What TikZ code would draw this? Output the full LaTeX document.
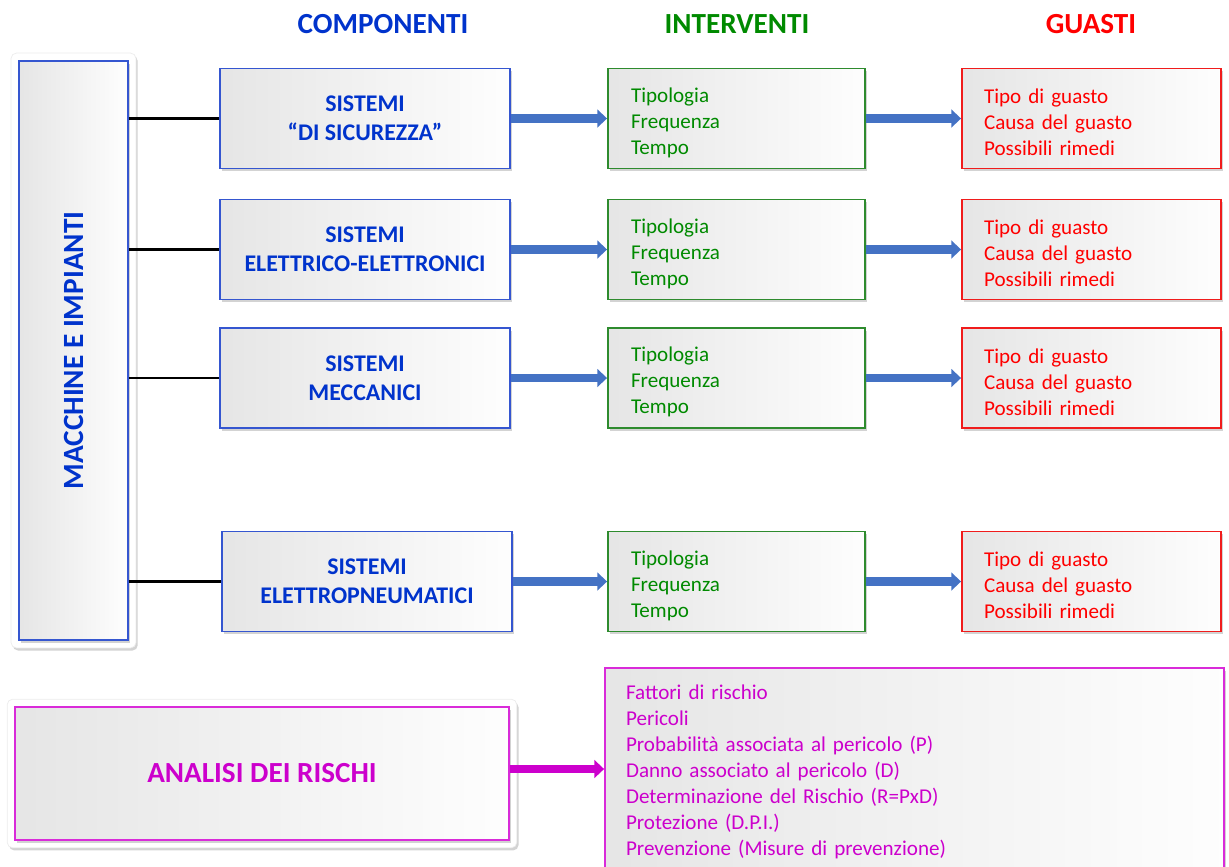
\documentclass[tikz,border=0pt]{standalone}
\usepackage{fontspec}
\setmainfont{Carlito}
\usepackage{tikz}
\usetikzlibrary{arrows.meta, shadows, fit, backgrounds}
\definecolor{cblue}{HTML}{0033CC}
\definecolor{bblue}{HTML}{3556D0}
\definecolor{cgreen}{HTML}{008A00}
\definecolor{bgreen}{HTML}{2E8B2E}
\definecolor{cred}{HTML}{FF0000}
\definecolor{bred}{HTML}{F01C1C}
\definecolor{cmag}{HTML}{CC00CC}
\definecolor{bmag}{HTML}{D92BD9}
\definecolor{arrblue}{HTML}{4472C4}
\tikzstyle{bevel} = [rectangle, line width=1.1pt, left color=gray!20, right color=gray!1, drop shadow={opacity=0.35, shadow xshift=1pt, shadow yshift=-1.5pt}]
\tikzstyle{frame} = [rectangle, rounded corners=3pt, fill=white, draw=gray!15, drop shadow={opacity=0.35, shadow xshift=1pt, shadow yshift=-1.5pt}]
\tikzstyle{title} = [font=\fontsize{16.6}{20}\selectfont\bfseries]
\tikzstyle{comp} = [bevel, draw=bblue, text=cblue, align=center, minimum width=5.8cm, minimum height=2cm, font=\fontsize{13.6}{16.4}\selectfont\bfseries]
\tikzstyle{interv} = [bevel, draw=bgreen, text=cgreen, align=left, inner xsep=0.46cm, text width=4.22cm, minimum height=2cm, font=\fontsize{12}{14.8}\selectfont]
\tikzstyle{guasto} = [bevel, draw=bred, text=cred, align=left, inner xsep=0.44cm, text width=4.3cm, minimum height=2cm, font=\fontsize{12}{14.8}\selectfont]
\tikzstyle{link} = [draw, black, line width=1.4pt]
\tikzstyle{bigarrow} = [draw, arrblue, line width=5pt, -{Triangle[length=5.5pt, width=10pt]}]
\tikzstyle{magarrow} = [draw, cmag, line width=5pt, -{Triangle[length=5.5pt, width=10pt]}]
\newcommand{\lowfirst}{\rule{0pt}{13pt}}

\begin{document}
\begin{tikzpicture}[x=0.02cm, y=-0.02cm]
\useasboundingbox (0, 0) rectangle (1229, 866);

%% headings
\node[title, text=cblue] at (383, 24) (hcomp) {COMPONENTI};
\node[title, text=cgreen] at (737, 24) (hint) {INTERVENTI};
\node[title, text=cred] at (1091, 24) (hgua) {GUASTI};

%% machines
\node[bevel, draw=bblue, text=cblue, minimum width=2.18cm, minimum height=11.58cm, font=\fontsize{16.7}{20}\selectfont\bfseries] at (73.5, 350.5) (mach) {\rotatebox{90}{MACCHINE E IMPIANTI}};
\begin{scope}[on background layer]
\node[frame, fit=(mach), inner sep=0.14cm] (machframe) {};
\end{scope}

%% components
\node[comp] at (365, 118.5) (comp1) {SISTEMI\\``DI SICUREZZA''};
\node[comp] at (365, 249.5) (comp2) {SISTEMI\\ELETTRICO-ELETTRONICI};
\node[comp] at (365, 378) (comp3) {SISTEMI\\MECCANICI};
\node[comp] at (367, 581.5) (comp4) {SISTEMI\\ELETTROPNEUMATICI};

\path[link] (comp1.west -| mach.east) -- (comp1.west);
\path[link] (comp2.west -| mach.east) -- (comp2.west);
\path[link] (comp3.west -| mach.east) -- (comp3.west);
\path[link] (comp4.west -| mach.east) -- (comp4.west);

%% interventions
\node[interv] at (736.5, 118.5) (int1) {\lowfirst Tipologia\\Frequenza\\Tempo};
\node[interv] at (736.5, 249.5) (int2) {\lowfirst Tipologia\\Frequenza\\Tempo};
\node[interv] at (736.5, 378) (int3) {\lowfirst Tipologia\\Frequenza\\Tempo};
\node[interv] at (736.5, 581.5) (int4) {\lowfirst Tipologia\\Frequenza\\Tempo};

\path[bigarrow] (comp1.east) -- (int1.west);
\path[bigarrow] (comp2.east) -- (int2.west);
\path[bigarrow] (comp3.east) -- (int3.west);
\path[bigarrow] (comp4.east) -- (comp4.east -| int4.west);

%% failures
\node[guasto] at (1091.5, 118.5) (gua1) {\lowfirst Tipo di guasto\\Causa del guasto\\Possibili rimedi};
\node[guasto] at (1091.5, 249.5) (gua2) {\lowfirst Tipo di guasto\\Causa del guasto\\Possibili rimedi};
\node[guasto] at (1091.5, 378) (gua3) {\lowfirst Tipo di guasto\\Causa del guasto\\Possibili rimedi};
\node[guasto] at (1091.5, 581.5) (gua4) {\lowfirst Tipo di guasto\\Causa del guasto\\Possibili rimedi};

\path[bigarrow] (int1.east) -- (gua1.west);
\path[bigarrow] (int2.east) -- (gua2.west);
\path[bigarrow] (int3.east) -- (gua3.west);
\path[bigarrow] (int4.east) -- (gua4.west);

%% risk analysis
\node[bevel, draw=bmag, text=cmag, line width=0.9pt, minimum width=9.88cm, minimum height=2.66cm, font=\fontsize{16.6}{20}\selectfont\bfseries] at (262, 773.5) (analisi) {ANALISI DEI RISCHI};
\begin{scope}[on background layer]
\node[frame, fit=(analisi), inner sep=0.14cm] (analisiframe) {};
\end{scope}

\node[bevel, draw=bmag, text=cmag, align=left, inner xsep=0.42cm, text width=11.54cm, minimum height=4.14cm, font=\fontsize{12}{14.8}\selectfont] at (914.5, 771.5) (rischi) {Fattori di rischio\\Pericoli\\Probabilità associata al pericolo (P)\\Danno associato al pericolo (D)\\Determinazione del Rischio (R=PxD)\\Protezione (D.P.I.)\\Prevenzione (Misure di prevenzione)};

\path[magarrow] ([yshift=0.09cm]analisi.east) -- ([yshift=0.09cm]analisi.east -| rischi.west);

\end{tikzpicture}
\end{document}
